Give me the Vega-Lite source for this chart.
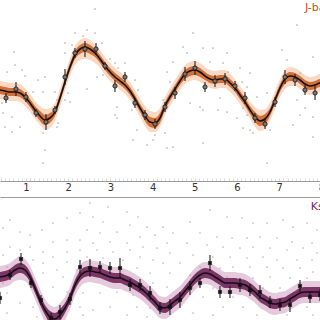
{
  "$schema": "https://vega.github.io/schema/vega-lite/v6.json",
  "padding": 0,
  "autosize": {"type": "pad"},
  "bounds": "flush",
  "spacing": 16,
  "config": {
    "view": {"stroke": null},
    "axis": {"labelFont": "DejaVu Sans", "labelFontSize": 10, "labelColor": "#333333", "domainColor": "#9a9a9a", "grid": false}
  },
  "datasets": {
    "curveJ": [
      {"x":0.384,"m":90,"a":81,"b":99,"c":86,"d":94},
      {"x":0.502,"m":91,"a":82,"b":100,"c":87,"d":95},
      {"x":0.621,"m":92,"a":83,"b":101,"c":88,"d":96},
      {"x":0.739,"m":92,"a":83,"b":101,"c":88,"d":96},
      {"x":0.858,"m":93,"a":84,"b":102,"c":89,"d":97},
      {"x":0.976,"m":97,"a":88,"b":106,"c":93,"d":101},
      {"x":1.095,"m":103,"a":94,"b":112,"c":99,"d":107},
      {"x":1.213,"m":110,"a":101,"b":119,"c":106,"d":114},
      {"x":1.332,"m":116,"a":106,"b":125,"c":111,"d":121},
      {"x":1.450,"m":120,"a":109,"b":130,"c":115,"d":125},
      {"x":1.569,"m":118,"a":108,"b":128,"c":113,"d":123},
      {"x":1.687,"m":112,"a":103,"b":121,"c":108,"d":116},
      {"x":1.806,"m":98,"a":89,"b":107,"c":94,"d":102},
      {"x":1.924,"m":82,"a":73,"b":91,"c":78,"d":86},
      {"x":2.043,"m":67,"a":58,"b":76,"c":63,"d":71},
      {"x":2.161,"m":55,"a":46,"b":65,"c":51,"d":59},
      {"x":2.280,"m":49,"a":40,"b":60,"c":45,"d":54},
      {"x":2.398,"m":47,"a":38,"b":59,"c":43,"d":52},
      {"x":2.517,"m":49,"a":40,"b":60,"c":45,"d":54},
      {"x":2.635,"m":53,"a":44,"b":63,"c":49,"d":57},
      {"x":2.754,"m":59,"a":50,"b":68,"c":55,"d":63},
      {"x":2.872,"m":66,"a":57,"b":75,"c":62,"d":70},
      {"x":2.991,"m":72,"a":63,"b":81,"c":68,"d":76},
      {"x":3.109,"m":77,"a":68,"b":86,"c":73,"d":81},
      {"x":3.228,"m":81,"a":72,"b":90,"c":77,"d":85},
      {"x":3.346,"m":85,"a":76,"b":94,"c":81,"d":89},
      {"x":3.465,"m":91,"a":82,"b":100,"c":87,"d":95},
      {"x":3.583,"m":99,"a":90,"b":108,"c":95,"d":103},
      {"x":3.702,"m":108,"a":99,"b":117,"c":104,"d":112},
      {"x":3.820,"m":116,"a":106,"b":126,"c":111,"d":121},
      {"x":3.939,"m":122,"a":111,"b":132,"c":117,"d":127},
      {"x":4.057,"m":123,"a":112,"b":132,"c":118,"d":128},
      {"x":4.175,"m":118,"a":108,"b":127,"c":113,"d":123},
      {"x":4.294,"m":106,"a":97,"b":115,"c":102,"d":110},
      {"x":4.412,"m":97,"a":88,"b":106,"c":93,"d":101},
      {"x":4.531,"m":89,"a":80,"b":98,"c":85,"d":93},
      {"x":4.649,"m":81,"a":72,"b":90,"c":77,"d":85},
      {"x":4.768,"m":74,"a":65,"b":84,"c":70,"d":79},
      {"x":4.886,"m":71,"a":62,"b":81,"c":67,"d":76},
      {"x":5.005,"m":70,"a":61,"b":80,"c":66,"d":75},
      {"x":5.123,"m":72,"a":63,"b":82,"c":68,"d":77},
      {"x":5.242,"m":76,"a":67,"b":85,"c":72,"d":80},
      {"x":5.360,"m":79,"a":70,"b":88,"c":75,"d":83},
      {"x":5.479,"m":80,"a":71,"b":89,"c":76,"d":84},
      {"x":5.597,"m":79,"a":70,"b":88,"c":75,"d":83},
      {"x":5.716,"m":79,"a":70,"b":88,"c":75,"d":83},
      {"x":5.834,"m":83,"a":74,"b":92,"c":79,"d":87},
      {"x":5.953,"m":88,"a":79,"b":97,"c":84,"d":92},
      {"x":6.071,"m":95,"a":86,"b":104,"c":91,"d":99},
      {"x":6.190,"m":102,"a":93,"b":111,"c":98,"d":106},
      {"x":6.308,"m":110,"a":101,"b":119,"c":106,"d":114},
      {"x":6.427,"m":117,"a":107,"b":127,"c":112,"d":122},
      {"x":6.545,"m":121,"a":110,"b":131,"c":116,"d":126},
      {"x":6.664,"m":119,"a":109,"b":129,"c":114,"d":124},
      {"x":6.782,"m":112,"a":103,"b":121,"c":108,"d":116},
      {"x":6.901,"m":100,"a":91,"b":109,"c":96,"d":104},
      {"x":7.019,"m":88,"a":79,"b":97,"c":84,"d":92},
      {"x":7.138,"m":79,"a":70,"b":89,"c":75,"d":84},
      {"x":7.256,"m":76,"a":67,"b":86,"c":72,"d":81},
      {"x":7.375,"m":77,"a":68,"b":86,"c":73,"d":81},
      {"x":7.493,"m":80,"a":71,"b":89,"c":76,"d":84},
      {"x":7.612,"m":84,"a":75,"b":93,"c":80,"d":88},
      {"x":7.730,"m":86,"a":77,"b":95,"c":82,"d":90},
      {"x":7.849,"m":85,"a":76,"b":94,"c":81,"d":89},
      {"x":7.967,"m":83,"a":74,"b":92,"c":79,"d":87},
      {"x":8.085,"m":84,"a":75,"b":93,"c":80,"d":88},
      {"x":8.204,"m":86,"a":77,"b":95,"c":82,"d":90}
    ],
    "curveK": [
      {"x":0.384,"m":277,"a":266,"b":288,"c":272,"d":282},
      {"x":0.502,"m":276,"a":265,"b":287,"c":271,"d":281},
      {"x":0.621,"m":274,"a":263,"b":285,"c":269,"d":279},
      {"x":0.739,"m":270,"a":259,"b":281,"c":265,"d":275},
      {"x":0.858,"m":268,"a":256,"b":280,"c":263,"d":273},
      {"x":0.976,"m":270,"a":259,"b":281,"c":265,"d":275},
      {"x":1.095,"m":277,"a":266,"b":288,"c":272,"d":282},
      {"x":1.213,"m":288,"a":277,"b":299,"c":283,"d":293},
      {"x":1.332,"m":300,"a":289,"b":311,"c":295,"d":305},
      {"x":1.450,"m":310,"a":299,"b":322,"c":305,"d":315},
      {"x":1.569,"m":317,"a":305,"b":329,"c":311,"d":323},
      {"x":1.687,"m":319,"a":307,"b":331,"c":313,"d":325},
      {"x":1.806,"m":315,"a":303,"b":327,"c":309,"d":321},
      {"x":1.924,"m":308,"a":297,"b":320,"c":303,"d":313},
      {"x":2.043,"m":298,"a":287,"b":309,"c":293,"d":303},
      {"x":2.161,"m":285,"a":274,"b":296,"c":280,"d":290},
      {"x":2.280,"m":276,"a":265,"b":287,"c":271,"d":281},
      {"x":2.398,"m":272,"a":261,"b":283,"c":267,"d":277},
      {"x":2.517,"m":271,"a":260,"b":282,"c":266,"d":276},
      {"x":2.635,"m":272,"a":261,"b":283,"c":267,"d":277},
      {"x":2.754,"m":273,"a":262,"b":284,"c":268,"d":278},
      {"x":2.872,"m":275,"a":264,"b":286,"c":270,"d":280},
      {"x":2.991,"m":277,"a":266,"b":288,"c":272,"d":282},
      {"x":3.109,"m":278,"a":267,"b":289,"c":273,"d":283},
      {"x":3.228,"m":278,"a":267,"b":289,"c":273,"d":283},
      {"x":3.346,"m":280,"a":269,"b":291,"c":275,"d":285},
      {"x":3.465,"m":282,"a":271,"b":293,"c":277,"d":287},
      {"x":3.583,"m":285,"a":274,"b":296,"c":280,"d":290},
      {"x":3.702,"m":288,"a":277,"b":299,"c":283,"d":293},
      {"x":3.820,"m":292,"a":281,"b":303,"c":287,"d":297},
      {"x":3.939,"m":297,"a":286,"b":308,"c":292,"d":302},
      {"x":4.057,"m":302,"a":291,"b":313,"c":297,"d":307},
      {"x":4.175,"m":307,"a":296,"b":318,"c":302,"d":312},
      {"x":4.294,"m":308,"a":297,"b":319,"c":303,"d":313},
      {"x":4.412,"m":305,"a":294,"b":316,"c":300,"d":310},
      {"x":4.531,"m":301,"a":290,"b":312,"c":296,"d":306},
      {"x":4.649,"m":297,"a":286,"b":308,"c":292,"d":302},
      {"x":4.768,"m":291,"a":280,"b":302,"c":286,"d":296},
      {"x":4.886,"m":285,"a":274,"b":296,"c":280,"d":290},
      {"x":5.005,"m":279,"a":268,"b":290,"c":274,"d":284},
      {"x":5.123,"m":275,"a":264,"b":286,"c":270,"d":280},
      {"x":5.242,"m":273,"a":262,"b":284,"c":268,"d":278},
      {"x":5.360,"m":274,"a":263,"b":285,"c":269,"d":279},
      {"x":5.479,"m":277,"a":266,"b":288,"c":272,"d":282},
      {"x":5.597,"m":280,"a":269,"b":291,"c":275,"d":285},
      {"x":5.716,"m":283,"a":272,"b":294,"c":278,"d":288},
      {"x":5.834,"m":283,"a":272,"b":294,"c":278,"d":288},
      {"x":5.953,"m":283,"a":272,"b":294,"c":278,"d":288},
      {"x":6.071,"m":284,"a":273,"b":295,"c":279,"d":289},
      {"x":6.190,"m":285,"a":274,"b":296,"c":280,"d":290},
      {"x":6.308,"m":288,"a":277,"b":299,"c":283,"d":293},
      {"x":6.427,"m":292,"a":281,"b":303,"c":287,"d":297},
      {"x":6.545,"m":297,"a":286,"b":308,"c":292,"d":302},
      {"x":6.664,"m":300,"a":289,"b":311,"c":295,"d":305},
      {"x":6.782,"m":303,"a":292,"b":314,"c":298,"d":308},
      {"x":6.901,"m":304,"a":293,"b":315,"c":299,"d":309},
      {"x":7.019,"m":303,"a":292,"b":314,"c":298,"d":308},
      {"x":7.138,"m":302,"a":291,"b":313,"c":297,"d":307},
      {"x":7.256,"m":299,"a":288,"b":310,"c":294,"d":304},
      {"x":7.375,"m":296,"a":285,"b":307,"c":291,"d":301},
      {"x":7.493,"m":293,"a":282,"b":304,"c":288,"d":298},
      {"x":7.612,"m":292,"a":281,"b":303,"c":287,"d":297},
      {"x":7.730,"m":292,"a":281,"b":303,"c":287,"d":297},
      {"x":7.849,"m":292,"a":281,"b":303,"c":287,"d":297},
      {"x":7.967,"m":292,"a":281,"b":303,"c":287,"d":297},
      {"x":8.204,"m":291,"a":280,"b":302,"c":286,"d":296}
    ],
    "ptsJ": [
      {"x":0.526,"m":98,"lo":93,"hi":103},
      {"x":0.763,"m":89,"lo":82,"hi":96},
      {"x":1.000,"m":97,"lo":92,"hi":102},
      {"x":1.237,"m":113,"lo":109,"hi":117},
      {"x":1.474,"m":122,"lo":114,"hi":130},
      {"x":1.687,"m":110,"lo":106,"hi":114},
      {"x":1.924,"m":77,"lo":69,"hi":85},
      {"x":2.161,"m":53,"lo":48,"hi":58},
      {"x":2.398,"m":49,"lo":41,"hi":57},
      {"x":2.659,"m":49,"lo":43,"hi":55},
      {"x":2.872,"m":66,"lo":62,"hi":70},
      {"x":3.109,"m":86,"lo":80,"hi":92},
      {"x":3.346,"m":77,"lo":72,"hi":82},
      {"x":3.583,"m":103,"lo":98,"hi":108},
      {"x":3.820,"m":115,"lo":110,"hi":120},
      {"x":4.057,"m":124,"lo":119,"hi":129},
      {"x":4.294,"m":107,"lo":102,"hi":112},
      {"x":4.531,"m":93,"lo":87,"hi":99},
      {"x":4.768,"m":74,"lo":67,"hi":81},
      {"x":5.005,"m":68,"lo":61,"hi":75},
      {"x":5.242,"m":87,"lo":82,"hi":92},
      {"x":5.479,"m":81,"lo":75,"hi":87},
      {"x":5.716,"m":79,"lo":73,"hi":85},
      {"x":5.953,"m":86,"lo":81,"hi":91},
      {"x":6.190,"m":98,"lo":92,"hi":104},
      {"x":6.427,"m":118,"lo":113,"hi":123},
      {"x":6.664,"m":124,"lo":119,"hi":129},
      {"x":6.901,"m":102,"lo":97,"hi":107},
      {"x":7.138,"m":77,"lo":70,"hi":84},
      {"x":7.375,"m":80,"lo":74,"hi":86},
      {"x":7.612,"m":90,"lo":85,"hi":95},
      {"x":7.849,"m":93,"lo":86,"hi":100}
    ],
    "ptsK": [
      {"x":0.384,"m":298,"lo":292,"hi":304},
      {"x":0.621,"m":275,"lo":270,"hi":280},
      {"x":0.882,"m":259,"lo":253,"hi":265},
      {"x":1.119,"m":283,"lo":278,"hi":288},
      {"x":1.356,"m":300,"lo":295,"hi":305},
      {"x":1.593,"m":318,"lo":313,"hi":323},
      {"x":1.806,"m":312,"lo":305,"hi":319},
      {"x":2.043,"m":299,"lo":293,"hi":305},
      {"x":2.280,"m":267,"lo":260,"hi":274},
      {"x":2.517,"m":268,"lo":259,"hi":277},
      {"x":2.754,"m":267,"lo":261,"hi":273},
      {"x":2.991,"m":268,"lo":262,"hi":274},
      {"x":3.228,"m":268,"lo":258,"hi":278},
      {"x":3.465,"m":285,"lo":279,"hi":291},
      {"x":3.702,"m":285,"lo":279,"hi":291},
      {"x":3.939,"m":293,"lo":286,"hi":300},
      {"x":4.175,"m":308,"lo":302,"hi":314},
      {"x":4.412,"m":307,"lo":299,"hi":315},
      {"x":4.649,"m":300,"lo":292,"hi":308},
      {"x":4.886,"m":288,"lo":281,"hi":295},
      {"x":5.123,"m":283,"lo":278,"hi":288},
      {"x":5.360,"m":263,"lo":255,"hi":271},
      {"x":5.597,"m":292,"lo":286,"hi":298},
      {"x":5.834,"m":292,"lo":286,"hi":298},
      {"x":6.071,"m":285,"lo":278,"hi":292},
      {"x":6.308,"m":290,"lo":284,"hi":296},
      {"x":6.545,"m":292,"lo":285,"hi":299},
      {"x":6.782,"m":302,"lo":296,"hi":308},
      {"x":7.019,"m":305,"lo":299,"hi":311},
      {"x":7.256,"m":305,"lo":298,"hi":312},
      {"x":7.493,"m":286,"lo":280,"hi":292},
      {"x":7.730,"m":297,"lo":291,"hi":303},
      {"x":7.967,"m":295,"lo":289,"hi":301}
    ],
    "dotsJ": [
      {"x":2.635,"m":9},{"x":2.161,"m":33},{"x":2.446,"m":30},{"x":2.351,"m":36},{"x":2.635,"m":33},
      {"x":1.924,"m":43},{"x":2.090,"m":45},{"x":2.801,"m":43},{"x":0.716,"m":52},{"x":1.924,"m":53},
      {"x":2.991,"m":59},{"x":3.109,"m":63},{"x":3.346,"m":63},{"x":3.181,"m":68},{"x":0.739,"m":65},
      {"x":0.905,"m":70},{"x":0.550,"m":72},{"x":0.976,"m":76},{"x":1.450,"m":77},{"x":1.285,"m":80},
      {"x":2.683,"m":77},{"x":2.825,"m":75},{"x":2.446,"m":89},{"x":3.109,"m":83},{"x":3.583,"m":80},
      {"x":3.655,"m":90},{"x":1.166,"m":92},{"x":1.403,"m":92},{"x":1.687,"m":92},{"x":1.996,"m":93},
      {"x":1.924,"m":100},{"x":1.735,"m":100},{"x":2.043,"m":102},{"x":0.431,"m":103},{"x":3.583,"m":103},
      {"x":3.157,"m":107},{"x":1.166,"m":110},{"x":3.512,"m":110},{"x":0.455,"m":113},{"x":3.109,"m":115},
      {"x":0.668,"m":117},{"x":3.157,"m":118},{"x":1.403,"m":120},{"x":1.759,"m":123},{"x":0.503,"m":127},
      {"x":1.735,"m":127},{"x":3.631,"m":130},{"x":0.668,"m":132},{"x":4.057,"m":135},{"x":0.858,"m":127},
      {"x":1.403,"m":133},{"x":3.868,"m":145},{"x":3.536,"m":140},{"x":1.450,"m":150},{"x":4.010,"m":140},
      {"x":7.423,"m":25},{"x":4.958,"m":33},{"x":4.721,"m":47},{"x":4.816,"m":53},{"x":5.195,"m":48},
      {"x":5.432,"m":48},{"x":5.764,"m":53},{"x":7.067,"m":50},{"x":7.186,"m":60},{"x":7.802,"m":57},
      {"x":4.484,"m":62},{"x":4.342,"m":72},{"x":5.361,"m":62},{"x":5.669,"m":63},{"x":6.071,"m":68},
      {"x":5.788,"m":72},{"x":5.053,"m":73},{"x":6.309,"m":73},{"x":7.494,"m":73},{"x":4.413,"m":82},
      {"x":7.091,"m":83},{"x":6.119,"m":82},{"x":6.238,"m":87},{"x":6.143,"m":100},{"x":7.660,"m":82},
      {"x":7.897,"m":93},{"x":4.247,"m":100},{"x":5.598,"m":98},{"x":6.475,"m":97},{"x":6.712,"m":93},
      {"x":4.887,"m":103},{"x":5.124,"m":107},{"x":5.195,"m":110},{"x":7.423,"m":100},{"x":4.295,"m":110},
      {"x":6.143,"m":108},{"x":6.238,"m":115},{"x":5.551,"m":110},{"x":5.764,"m":112},{"x":6.001,"m":118},
      {"x":6.143,"m":128},{"x":6.309,"m":130},{"x":6.380,"m":133},{"x":6.783,"m":130},{"x":7.494,"m":115},
      {"x":7.613,"m":108},{"x":7.802,"m":117},{"x":4.295,"m":133},{"x":4.484,"m":147},{"x":5.195,"m":143},
      {"x":7.802,"m":137},{"x":7.328,"m":125},{"x":4.342,"m":148},{"x":1.403,"m":163},{"x":6.712,"m":163}
    ],
    "dotsK": [
      {"x":2.517,"m":203},{"x":2.944,"m":207},{"x":2.280,"m":213},{"x":2.588,"m":217},{"x":3.394,"m":212},
      {"x":3.655,"m":217},{"x":2.825,"m":222},{"x":3.465,"m":225},{"x":3.868,"m":227},{"x":1.972,"m":218},
      {"x":1.640,"m":223},{"x":0.621,"m":220},{"x":0.455,"m":228},{"x":0.858,"m":232},{"x":1.095,"m":235},
      {"x":1.379,"m":230},{"x":2.446,"m":230},{"x":2.754,"m":233},{"x":3.157,"m":232},{"x":3.702,"m":237},
      {"x":4.057,"m":235},{"x":1.972,"m":240},{"x":1.640,"m":242},{"x":2.280,"m":240},{"x":2.588,"m":243},
      {"x":2.991,"m":242},{"x":3.394,"m":243},{"x":0.621,"m":247},{"x":1.095,"m":247},{"x":3.773,"m":247},
      {"x":4.105,"m":248},{"x":0.858,"m":250},{"x":1.403,"m":252},{"x":1.972,"m":252},{"x":2.280,"m":250},
      {"x":2.683,"m":250},{"x":3.062,"m":252},{"x":3.465,"m":250},{"x":0.455,"m":255},{"x":1.640,"m":257},
      {"x":2.446,"m":257},{"x":2.825,"m":258},{"x":3.702,"m":257},{"x":4.010,"m":260},{"x":1.166,"m":260},
      {"x":1.972,"m":262},{"x":1.403,"m":263},{"x":3.299,"m":260},{"x":0.550,"m":267},{"x":1.735,"m":270},
      {"x":2.209,"m":270},{"x":3.631,"m":268},{"x":3.939,"m":273},{"x":1.403,"m":273},{"x":1.877,"m":277},
      {"x":4.010,"m":283},{"x":0.455,"m":283},{"x":1.640,"m":287},{"x":2.114,"m":287},{"x":3.868,"m":287},
      {"x":0.550,"m":293},{"x":1.972,"m":292},{"x":2.351,"m":293},{"x":2.754,"m":293},{"x":3.157,"m":292},
      {"x":3.536,"m":295},{"x":0.858,"m":303},{"x":1.166,"m":307},{"x":2.280,"m":307},{"x":2.588,"m":310},
      {"x":2.991,"m":307},{"x":3.631,"m":307},{"x":3.939,"m":308},{"x":0.550,"m":313},{"x":1.261,"m":317},
      {"x":2.351,"m":315},{"x":3.394,"m":315},{"x":3.868,"m":317},
      {"x":5.361,"m":210},{"x":5.764,"m":217},{"x":4.887,"m":222},{"x":6.119,"m":218},{"x":6.380,"m":223},
      {"x":6.712,"m":223},{"x":7.091,"m":220},{"x":7.328,"m":227},{"x":7.660,"m":223},{"x":7.897,"m":230},
      {"x":4.247,"m":227},{"x":4.484,"m":233},{"x":5.124,"m":233},{"x":5.527,"m":237},{"x":5.882,"m":238},
      {"x":6.238,"m":238},{"x":6.546,"m":237},{"x":6.949,"m":238},{"x":7.304,"m":242},{"x":7.778,"m":243},
      {"x":4.342,"m":243},{"x":4.816,"m":243},{"x":5.290,"m":245},{"x":5.669,"m":247},{"x":6.071,"m":248},
      {"x":6.380,"m":247},{"x":6.783,"m":248},{"x":7.186,"m":250},{"x":7.565,"m":248},{"x":7.897,"m":253},
      {"x":4.413,"m":253},{"x":4.958,"m":255},{"x":5.432,"m":257},{"x":5.835,"m":257},{"x":6.238,"m":258},
      {"x":6.617,"m":257},{"x":6.949,"m":260},{"x":7.423,"m":260},{"x":7.778,"m":260},{"x":4.247,"m":263},
      {"x":4.650,"m":263},{"x":5.124,"m":267},{"x":5.598,"m":268},{"x":5.906,"m":267},{"x":6.309,"m":267},
      {"x":6.712,"m":267},{"x":7.091,"m":268},{"x":7.494,"m":268},{"x":7.802,"m":272},{"x":4.413,"m":273},
      {"x":4.887,"m":275},{"x":5.764,"m":277},{"x":6.380,"m":278},{"x":6.783,"m":277},{"x":7.257,"m":278},
      {"x":7.660,"m":278},{"x":4.342,"m":287},{"x":4.958,"m":288},{"x":5.432,"m":288},{"x":6.143,"m":287},
      {"x":6.617,"m":288},{"x":7.020,"m":288},{"x":7.494,"m":288},{"x":7.897,"m":290},{"x":4.650,"m":293},
      {"x":5.195,"m":297},{"x":5.906,"m":297},{"x":6.546,"m":298},{"x":7.328,"m":297},{"x":4.484,"m":307},
      {"x":5.669,"m":307},{"x":6.143,"m":307},{"x":6.783,"m":308},{"x":7.660,"m":307},{"x":4.958,"m":313},
      {"x":5.432,"m":315},{"x":6.475,"m":315},{"x":7.186,"m":315},{"x":7.802,"m":315}
    ],
    "labJ": [{"x":7.61,"m":8,"t":"J-band"}],
    "labK": [{"x":7.75,"m":207,"t":"Ks-band"}]
  },
  "vconcat": [
    {
      "width": 330,
      "height": 181,
      "encoding": {
        "x": {"field": "x", "type": "quantitative", "scale": {"domain": [0.384, 8.204], "nice": false, "zero": false},
          "axis": {"orient": "bottom", "title": null, "tickCount": 80, "tickSize": -3, "tickColor": "#dddddd", "labelPadding": 4, "labelOverlap": false, "labelFlush": false, "labelExpr": "datum.value % 1 == 0 ? format(datum.value, 'd') : ''"}}
      },
      "layer": [
        {"data": {"name": "dotsJ"}, "mark": {"type": "circle", "size": 3, "color": "#a89482", "opacity": 0.8, "clip": true},
          "encoding": {"y": {"field": "m", "type": "quantitative", "scale": {"domain": [0, 181], "reverse": true, "nice": false, "zero": false}, "axis": null}}},
        {"data": {"name": "curveJ"}, "mark": {"type": "area", "color": "#f3aa7c", "opacity": 0.45, "interpolate": "monotone", "clip": true},
          "encoding": {"y": {"field": "a", "type": "quantitative"}, "y2": {"field": "b"}}},
        {"data": {"name": "curveJ"}, "mark": {"type": "area", "color": "#c95d20", "opacity": 0.85, "interpolate": "monotone", "clip": true},
          "encoding": {"y": {"field": "c", "type": "quantitative"}, "y2": {"field": "d"}}},
        {"data": {"name": "curveJ"}, "mark": {"type": "line", "color": "#111111", "strokeWidth": 1.6, "interpolate": "monotone", "clip": true},
          "encoding": {"y": {"field": "m", "type": "quantitative"}}},
        {"data": {"name": "ptsJ"}, "mark": {"type": "rule", "color": "#111111", "strokeWidth": 1, "clip": true},
          "encoding": {"y": {"field": "lo", "type": "quantitative"}, "y2": {"field": "hi"}}},
        {"data": {"name": "ptsJ"}, "mark": {"type": "point", "shape": "circle", "filled": true, "size": 18, "fill": "#777777", "stroke": "#111111", "strokeWidth": 0.8, "opacity": 1, "clip": true},
          "encoding": {"y": {"field": "m", "type": "quantitative"}}},
        {"data": {"name": "labJ"}, "mark": {"type": "text", "align": "left", "baseline": "middle", "fontSize": 11, "font": "DejaVu Sans", "color": "#c0521c", "clip": true},
          "encoding": {"y": {"field": "m", "type": "quantitative"}, "text": {"field": "t"}}}
      ]
    },
    {
      "width": 330,
      "height": 140,
      "encoding": {
        "x": {"field": "x", "type": "quantitative", "scale": {"domain": [0.384, 8.204], "nice": false, "zero": false},
          "axis": {"orient": "top", "title": null, "labels": false, "ticks": false}}
      },
      "layer": [
        {"data": {"name": "dotsK"}, "mark": {"type": "circle", "size": 3, "color": "#c9a0b8", "opacity": 0.85, "clip": true},
          "encoding": {"y": {"field": "m", "type": "quantitative", "scale": {"domain": [197, 337], "reverse": true, "nice": false, "zero": false}, "axis": null}}},
        {"data": {"name": "curveK"}, "mark": {"type": "area", "color": "#c489b0", "opacity": 0.45, "interpolate": "monotone", "clip": true},
          "encoding": {"y": {"field": "a", "type": "quantitative"}, "y2": {"field": "b"}}},
        {"data": {"name": "curveK"}, "mark": {"type": "area", "color": "#6e1f56", "opacity": 0.88, "interpolate": "monotone", "clip": true},
          "encoding": {"y": {"field": "c", "type": "quantitative"}, "y2": {"field": "d"}}},
        {"data": {"name": "curveK"}, "mark": {"type": "line", "color": "#111111", "strokeWidth": 1.6, "interpolate": "monotone", "clip": true},
          "encoding": {"y": {"field": "m", "type": "quantitative"}}},
        {"data": {"name": "ptsK"}, "mark": {"type": "rule", "color": "#111111", "strokeWidth": 1, "clip": true},
          "encoding": {"y": {"field": "lo", "type": "quantitative"}, "y2": {"field": "hi"}}},
        {"data": {"name": "ptsK"}, "mark": {"type": "point", "shape": "cross", "angle": 45, "filled": true, "size": 22, "color": "#111111", "opacity": 1, "clip": true},
          "encoding": {"y": {"field": "m", "type": "quantitative"}}},
        {"data": {"name": "labK"}, "mark": {"type": "text", "align": "left", "baseline": "middle", "fontSize": 11, "font": "DejaVu Sans", "color": "#6e2a60", "clip": true},
          "encoding": {"y": {"field": "m", "type": "quantitative"}, "text": {"field": "t"}}}
      ]
    }
  ]
}
